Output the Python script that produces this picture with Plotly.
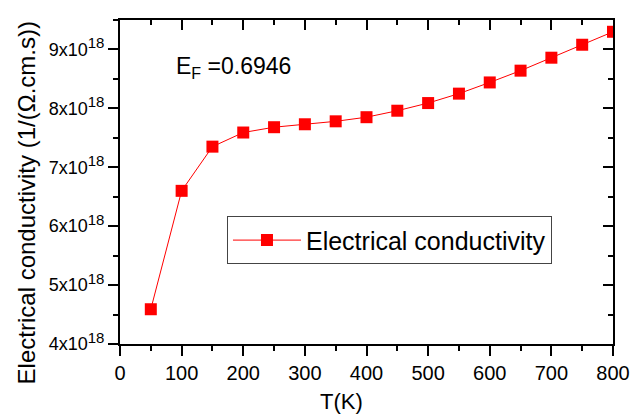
import plotly.graph_objects as go

# Temperature (K) and electrical conductivity (1/(Ω.cm.s))
temperature = [50, 100, 150, 200, 250, 300, 350, 400, 450, 500,
               550, 600, 650, 700, 750, 800]
conductivity = [4.59e18, 6.60e18, 7.35e18, 7.59e18, 7.68e18, 7.73e18,
                7.78e18, 7.85e18, 7.96e18, 8.09e18, 8.25e18, 8.44e18,
                8.64e18, 8.86e18, 9.08e18, 9.30e18]

x_ticks = [0, 100, 200, 300, 400, 500, 600, 700, 800]
y_ticks = [4e18, 5e18, 6e18, 7e18, 8e18, 9e18]
y_mantissas = ["4", "5", "6", "7", "8", "9"]
y_tick_text = [f"{m}x10<sup><span style='font-size:15px'>18</span></sup>"
               for m in y_mantissas]

FONT = "Arial, 'Liberation Sans', sans-serif"
x_range = [0, 800]
y_range = [4e18, 9.5e18]

fig = go.Figure()
fig.add_trace(go.Scatter(
    x=temperature, y=conductivity, mode="lines+markers",
    name="Electrical conductivity",
    line=dict(color="#FF0000", width=1),
    marker=dict(symbol="square", size=12, color="#FF0000"),
))
# companion trace so the top/right mirror axes are drawn
fig.add_trace(go.Scatter(
    x=[temperature[0]], y=[conductivity[0]], xaxis="x2", yaxis="y2",
    mode="markers", marker=dict(opacity=0), showlegend=False, hoverinfo="skip",
))

axis_common = dict(showgrid=False, zeroline=False, showline=True,
                   linecolor="black", linewidth=2, tickcolor="black",
                   tickwidth=2, ticklen=10)

fig.update_layout(
    width=643, height=416,
    margin=dict(l=120, r=30, t=20, b=72),
    plot_bgcolor="white", paper_bgcolor="white",
    font=dict(family=FONT, color="black"),
    xaxis=dict(range=x_range, tickvals=x_ticks, ticks="outside",
               tickfont=dict(size=20, family=FONT),
               minor=dict(dtick=50, ticks="outside", ticklen=5,
                          tickwidth=2, tickcolor="black"),
               **axis_common),
    yaxis=dict(range=y_range, tickvals=y_ticks, ticktext=y_tick_text,
               ticks="outside", tickfont=dict(size=18, family=FONT),
               minor=dict(dtick=0.5e18, tick0=4e18, ticks="outside",
                          ticklen=5, tickwidth=2, tickcolor="black"),
               **axis_common),
    xaxis2=dict(range=x_range, overlaying="x", side="top", anchor="y2",
                tickvals=x_ticks, ticks="inside", showticklabels=False,
                minor=dict(dtick=50, ticks="inside", ticklen=5,
                           tickwidth=2, tickcolor="black"),
                **axis_common),
    yaxis2=dict(range=y_range, overlaying="y", side="right", anchor="x2",
                tickvals=y_ticks, ticks="inside", showticklabels=False,
                minor=dict(dtick=0.5e18, tick0=4e18, ticks="inside",
                           ticklen=5, tickwidth=2, tickcolor="black"),
                **axis_common),
    legend=dict(x=0.217, y=0.394, xanchor="left", yanchor="top",
                bordercolor="#444444", borderwidth=1,
                bgcolor="rgba(255,255,255,0)",
                font=dict(size=25, family=FONT), itemwidth=68),
    showlegend=True,
)

fig.add_annotation(text="E<sub>F</sub> =0.6946", xref="paper", yref="paper",
                   x=0.1095, y=0.852, xanchor="left", yanchor="middle",
                   showarrow=False, font=dict(size=23, family=FONT))
fig.add_annotation(text="T(K)", xref="paper", yref="paper",
                   x=0.450, y=-0.178, xanchor="center", yanchor="middle",
                   showarrow=False, font=dict(size=22, family=FONT))
fig.add_annotation(text="Electrical conductivity (1/(Ω.cm.s))",
                   xref="paper", yref="paper", x=-0.1907, y=0.437,
                   xanchor="center", yanchor="middle", textangle=-90,
                   showarrow=False, font=dict(size=24, family=FONT))

fig.write_html("out.html")
